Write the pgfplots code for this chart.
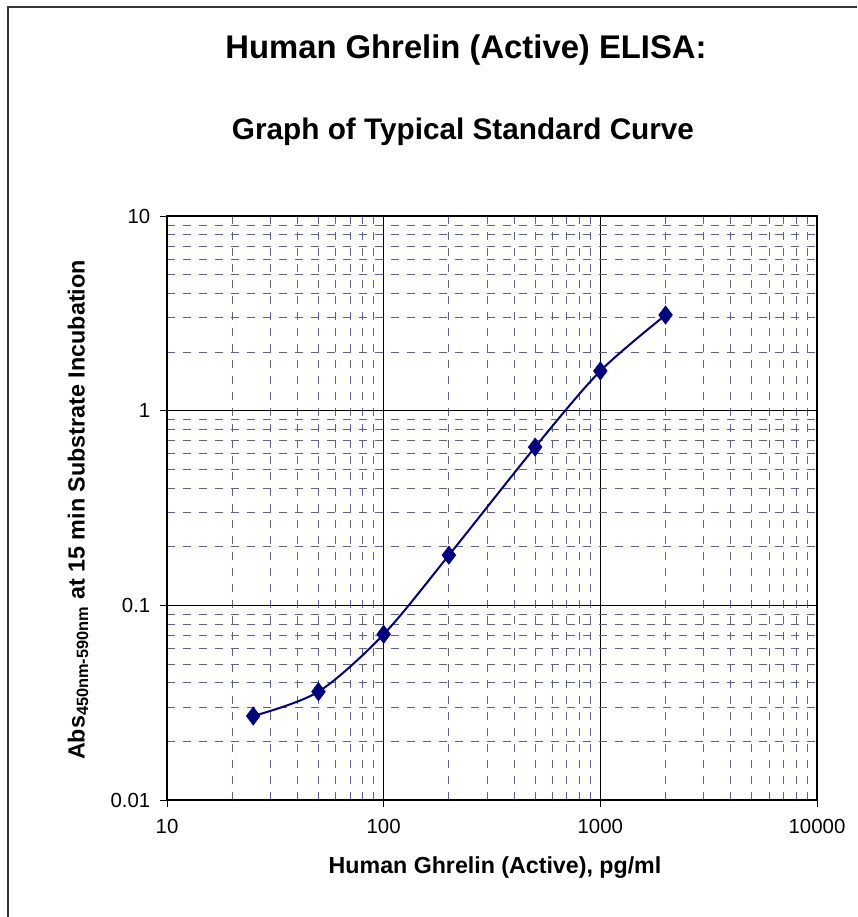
\documentclass[border=0pt]{standalone}
\usepackage{pgfplots}
\pgfplotsset{compat=1.18}
\usepackage{fontspec}
\setmainfont{Liberation Sans}
\definecolor{curve}{RGB}{0,0,128}
\definecolor{minorgrid}{RGB}{95,95,150}

\begin{document}
\begin{tikzpicture}
\useasboundingbox (0,0) rectangle (642.75pt,687.75pt);
% outer frame (only left and top edges visible)
\draw[line width=1.4pt, black!80] (6pt,0) -- (6pt,682.5pt) -- (642.75pt,682.5pt);

\begin{axis}[
    at={(125.25pt,87.75pt)}, anchor=south west,
    scale only axis,
    width=487.5pt, height=438pt,
    xmode=log, ymode=log,
    xmin=10, xmax=10000,
    ymin=0.01, ymax=10,
    xtick={10,100,1000,10000},
    xticklabels={10,100,1000,10000},
    ytick={0.01,0.1,1,10},
    yticklabels={0.01,0.1,1,10},
    /pgf/number format/assume math mode=true,
    ticklabel style={font=\fontsize{15.3}{18}\selectfont},
    xticklabel style={yshift=-6pt},
    yticklabel style={xshift=-4pt},
    xtick pos=bottom, ytick pos=left,
    tick align=outside,
    major tick length=5pt,
    minor tick length=0pt,
    grid=both,
    major grid style={black, line width=0.6pt},
    minor grid style={minorgrid, line width=0.6pt, dash pattern=on 6pt off 6pt},
    axis line style={black, line width=0.9pt},
    tick style={black, line width=0.6pt},
]
\addplot[curve, line width=1.5pt, smooth, tension=0.5,
    mark=diamond*, mark size=6.8pt, mark options={fill=curve, draw=curve, line width=0.5pt}]
    coordinates {
    (25, 0.027)
    (50, 0.036)
    (100, 0.071)
    (200, 0.181)
    (500, 0.65)
    (1000, 1.6)
    (2000, 3.1)
};
\end{axis}

\node[font=\bfseries\fontsize{24.6}{29}\selectfont] at (349.5pt,650.25pt) {Human Ghrelin (Active) ELISA:};
\node[font=\bfseries\fontsize{22.3}{26}\selectfont] at (347.25pt,588.75pt) {Graph of Typical Standard Curve};
\node[font=\bfseries\fontsize{17.4}{20}\selectfont] at (371.25pt,37pt) {Human Ghrelin (Active), pg/ml};
\node[font=\bfseries\fontsize{17.5}{20}\selectfont, rotate=90] at (58.5pt,305.25pt)
    {Abs\textsubscript{450nm-590nm} at 15 min Substrate Incubation};
\end{tikzpicture}
\end{document}
